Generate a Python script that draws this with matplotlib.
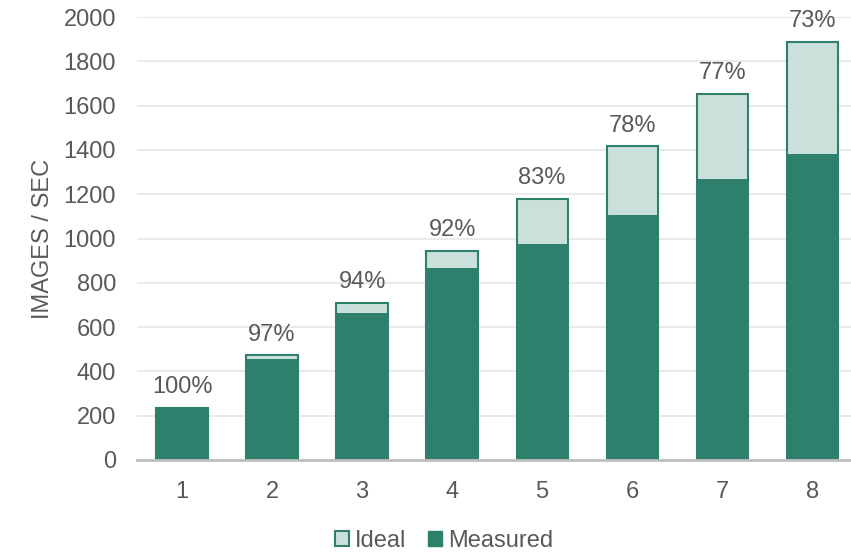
import matplotlib
matplotlib.use("Agg")
import matplotlib.pyplot as plt
from matplotlib.patches import Patch

plt.rcParams['font.family'] = ['Liberation Sans', 'DejaVu Sans']

gpus = [1, 2, 3, 4, 5, 6, 7, 8]
ideal = [236, 472, 708, 944, 1180, 1416, 1652, 1888]
measured = [236, 457, 665, 866, 975, 1105, 1270, 1381]

dark = "#2e7f6c"
light = "#cae1db"
txt = "#595959"
fs = 17

fig = plt.figure(figsize=(8.51, 5.54), dpi=100)
ax = fig.add_axes([137 / 851, 1 - 460 / 554, (851 - 137) / 851, (460 - 17) / 554])

w = 0.57
ax.bar(gpus, ideal, width=w, color=light, edgecolor=dark, linewidth=1.5, zorder=2)
ax.bar(gpus, measured, width=w, color=dark, edgecolor=dark, linewidth=0, zorder=3)

for x, i, m in zip(gpus, ideal, measured):
    ax.annotate(f"{round(100 * m / i)}%", (x, i), xytext=(0, 7), textcoords="offset points",
                ha="center", va="bottom", fontsize=fs, color=txt)

ax.set_xlim(0.5, 8.43)
ax.set_ylim(0, 2000)
ax.set_yticks(range(0, 2001, 200))
ax.set_xticks(gpus)
ax.tick_params(axis="both", length=0, labelsize=fs, labelcolor=txt)
ax.tick_params(axis="x", pad=15)
ax.tick_params(axis="y", pad=15)
ax.grid(axis="y", color="#e6e6e6", linewidth=1.2, zorder=0)
ax.set_axisbelow(True)
for s in ["top", "right", "left"]:
    ax.spines[s].set_visible(False)
ax.spines["bottom"].set_color("#bfbfbf")
ax.spines["bottom"].set_linewidth(2)
ax.spines["bottom"].set_zorder(4)

ax.set_ylabel("IMAGES / SEC", fontsize=fs, color=txt, labelpad=7)

handles = [Patch(facecolor=light, edgecolor=dark, linewidth=1.5, label="Ideal"),
           Patch(facecolor=dark, edgecolor=dark, label="Measured")]
fig.legend(handles=handles, loc="center", bbox_to_anchor=(444 / 851, 1 - 541 / 554), ncol=2,
           frameon=False, fontsize=fs, labelcolor=txt, handlelength=0.6, handleheight=0.6,
           handletextpad=0.25, columnspacing=0.9)

fig.savefig("out.png", dpi=100)
